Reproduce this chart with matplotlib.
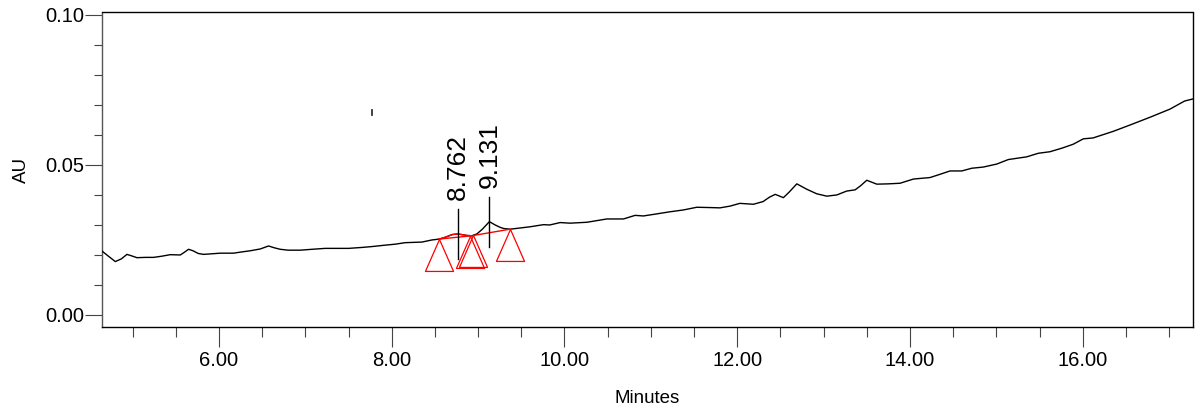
import matplotlib
matplotlib.use("Agg")
import matplotlib.pyplot as plt
import numpy as np
from matplotlib.ticker import MultipleLocator, FixedLocator, FormatStrFormatter

plt.rcParams['font.family'] = ['Liberation Sans', 'DejaVu Sans']

# Chromatogram trace (retention time in minutes, absorbance in AU)
time_min = [4.646, 4.72, 4.80, 4.87, 4.935, 5.00, 5.05, 5.15, 5.243, 5.34, 5.436, 5.552,
            5.60, 5.648, 5.70, 5.76, 5.822, 5.92, 6.015, 6.169, 6.26, 6.362, 6.478, 6.574,
            6.64, 6.709, 6.80, 6.941, 7.08, 7.230, 7.50, 7.65, 7.771, 7.90, 8.041, 8.156,
            8.35, 8.465, 8.550, 8.62, 8.70, 8.762, 8.81, 8.87, 8.928, 8.986, 9.05, 9.131,
            9.198, 9.256, 9.30, 9.372, 9.49, 9.603, 9.757, 9.83, 9.95, 10.066, 10.26, 10.49,
            10.683, 10.818, 10.914, 11.07, 11.223, 11.377, 11.532, 11.686, 11.80, 11.92, 12.03,
            12.188, 12.30, 12.37, 12.44, 12.535, 12.60, 12.69, 12.806, 12.92, 13.037, 13.153,
            13.268, 13.365, 13.43, 13.50, 13.616, 13.75, 13.885, 14.04, 14.232, 14.35, 14.464,
            14.60, 14.715, 14.85, 15.005, 15.139, 15.352, 15.487, 15.62, 15.76, 15.89, 16.007,
            16.12, 16.354, 16.547, 16.78, 17.01, 17.18, 17.277]
absorbance = [0.0212, 0.0195, 0.0177, 0.0186, 0.0201, 0.0195, 0.0190, 0.0191, 0.0191, 0.0195,
              0.0200, 0.0199, 0.0208, 0.0218, 0.0213, 0.0204, 0.0201, 0.0203, 0.0205, 0.0205,
              0.0209, 0.0213, 0.0219, 0.0229, 0.0223, 0.0218, 0.0215, 0.0215, 0.0218, 0.0221,
              0.0221, 0.0224, 0.0227, 0.0231, 0.0235, 0.0240, 0.0242, 0.0249, 0.0252, 0.0258,
              0.0267, 0.0269, 0.0267, 0.0264, 0.0263, 0.0269, 0.0285, 0.0310, 0.0299, 0.0291,
              0.0287, 0.0285, 0.0289, 0.0293, 0.0300, 0.0299, 0.0307, 0.0305, 0.0308, 0.0319,
              0.0319, 0.0331, 0.0329, 0.0336, 0.0343, 0.0349, 0.0358, 0.0357, 0.0356, 0.0362,
              0.0371, 0.0368, 0.0377, 0.0391, 0.0401, 0.0390, 0.0408, 0.0436, 0.0418, 0.0403,
              0.0395, 0.0399, 0.0412, 0.0416, 0.0430, 0.0448, 0.0435, 0.0436, 0.0438, 0.0452,
              0.0457, 0.0468, 0.0479, 0.0479, 0.0488, 0.0492, 0.0502, 0.0517, 0.0526, 0.0538,
              0.0543, 0.0555, 0.0568, 0.0586, 0.0589, 0.0611, 0.0632, 0.0658, 0.0685, 0.0712,
              0.0719]

# Integrated peaks: retention time and apex height
peak_rt = [8.762, 9.131]
peak_height = [0.0269, 0.0310]
peak_labels = ["8.762", "9.131"]

# Integration start/end markers (time, AU) and baseline segments
marker_t = [8.550, 8.909, 8.947, 9.372]
marker_au = [0.0252, 0.0263, 0.0264, 0.0285]
baseline_t = [[8.550, 8.928], [8.947, 9.372]]
baseline_au = [[0.0252, 0.0263], [0.0264, 0.0285]]

# Event mark (time, lower and upper AU)
event_t = 7.771
event_au = [0.0666, 0.0682]

fig = plt.figure(figsize=(12, 4.11), dpi=100)
ax = fig.add_axes([102 / 1200, 1 - 327 / 411, (1193 - 102) / 1200, (327 - 12.5) / 411])

t = np.array(time_min)
a = np.array(absorbance)
ax.plot(t, a, color='black', lw=1.0, solid_joinstyle='round', zorder=3)

# Signal of the first integrated peak drawn in red
sel = (t >= marker_t[0]) & (t <= 8.928)
ax.plot(t[sel], a[sel], color='#ff0000', lw=1.0, zorder=4)
for bt, ba in zip(baseline_t, baseline_au):
    ax.plot(bt, ba, color='#ff0000', lw=1.0, zorder=4)

# Open triangles hanging below each integration point
tri = [(0, 0), (-0.44, -1), (0.44, -1), (0, 0)]
ax.plot(marker_t, marker_au, linestyle='none', marker=tri, markersize=46,
        markerfacecolor='none', markeredgecolor='#ff0000', markeredgewidth=0.9, zorder=5)

# Peak ticks and retention-time labels
half = 0.0083
for rt, h, lab in zip(peak_rt, peak_height, peak_labels):
    ax.plot([rt, rt], [h - half, h + half], color='black', lw=1.0, zorder=5)
    ax.annotate(lab, xy=(rt, h), xytext=(0, 34), textcoords='offset pixels',
                rotation=90, ha='center', va='bottom', fontsize=19)

ax.plot([event_t, event_t], event_au, color='#333333', lw=1.3)

ax.set_xlim(4.646, 17.277)
ax.set_ylim(-0.0041, 0.1007)

ax.xaxis.set_major_locator(FixedLocator([6, 8, 10, 12, 14, 16]))
ax.xaxis.set_minor_locator(MultipleLocator(0.5))
ax.xaxis.set_major_formatter(FormatStrFormatter('%.2f'))
ax.yaxis.set_major_locator(FixedLocator([0.0, 0.05, 0.10]))
ax.yaxis.set_minor_locator(MultipleLocator(0.01))
ax.yaxis.set_major_formatter(FormatStrFormatter('%.2f'))

ax.tick_params(axis='x', which='major', length=14.4, width=0.8, color='#444444',
               labelsize=14.5, pad=3)
ax.tick_params(axis='x', which='minor', length=7.2, width=0.8, color='#444444')
ax.tick_params(axis='y', which='major', length=12, width=0.8, color='#444444',
               labelsize=14.5, pad=1)
ax.tick_params(axis='y', which='minor', length=6, width=0.8, color='#444444')

for side in ['top', 'bottom', 'right']:
    ax.spines[side].set_color('black')
    ax.spines[side].set_linewidth(1.0)
ax.spines['left'].set_color('#555555')
ax.spines['left'].set_linewidth(1.0)

ax.set_xlabel('Minutes', fontsize=13.5, labelpad=14.5)
ax.set_ylabel('AU', fontsize=13.5, labelpad=10.5)

fig.savefig('out.png', dpi=100)
